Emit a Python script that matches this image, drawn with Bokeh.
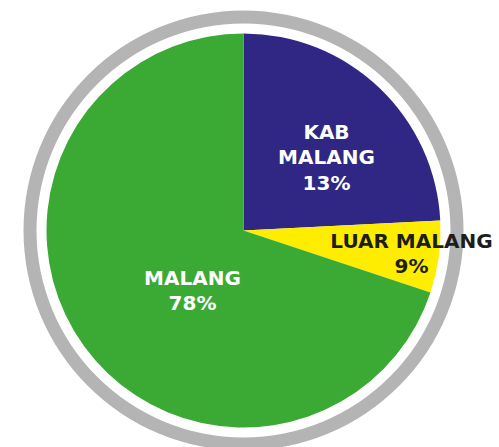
import math
from bokeh.plotting import figure
from bokeh.models import Range1d, ColumnDataSource
from bokeh.core.properties import value
from bokeh.embed import file_html
from bokeh.resources import INLINE

# ---- data ----
categories = ["KAB MALANG", "LUAR MALANG", "MALANG"]
pct_labels = ["13%", "9%", "78%"]
# slice sizes as drawn in the picture (share of the full circle, %)
drawn_share = [24.2, 5.9, 69.9]
colors = ["#302683", "#ffed00", "#3aaa35"]
text_colors = ["#ffffff", "#1d1d1b", "#ffffff"]

# ---- layout ----
W, H = 499, 447
CX, CY = 243, 230          # pixel center of the pie
R = 197                    # pie radius (px)
RING_IN, RING_OUT = 207, 220
# label anchor offsets (px, from center; y up)
label_dx = [83, 168, -51]
label_dy = [73, -23, -60]
label_size = ["20px", "20px", "20px"]

p = figure(width=W, height=H, output_backend="svg", toolbar_location=None,
           x_range=Range1d(-CX, W - CX), y_range=Range1d(-(H - CY), CY),
           min_border=0)
p.axis.visible = False
p.grid.visible = False
p.outline_line_color = None
p.background_fill_color = "white"
p.border_fill_color = "white"

# angles: start at 12 o'clock, go clockwise
total = sum(drawn_share)
starts, ends = [], []
a = math.pi / 2
for s in drawn_share:
    starts.append(a)
    a -= s / total * 2 * math.pi
    ends.append(a)

src = ColumnDataSource(dict(cat=categories, start=starts, end=ends, color=colors))
p.wedge(x=0, y=0, radius=R, start_angle="end", end_angle="start",
        direction="anticlock", fill_color="color", line_color=None, source=src)

p.annulus(x=0, y=0, inner_radius=RING_IN, outer_radius=RING_OUT,
          fill_color="#b4b4b4", line_color=None)

texts = []
for c, pl in zip(categories, pct_labels):
    if c == "KAB MALANG":
        texts.append("KAB\nMALANG\n" + pl)
    else:
        texts.append(c + "\n" + pl)

for i in range(len(categories)):
    p.text(x=[label_dx[i]], y=[label_dy[i]], text=[texts[i]],
           text_color=text_colors[i], text_font=value("DejaVu Sans"),
           text_font_size=label_size[i], text_font_style="bold",
           text_align="center", text_baseline="middle",
           text_line_height=1.08)

open("out.html", "w").write(file_html(p, INLINE))
